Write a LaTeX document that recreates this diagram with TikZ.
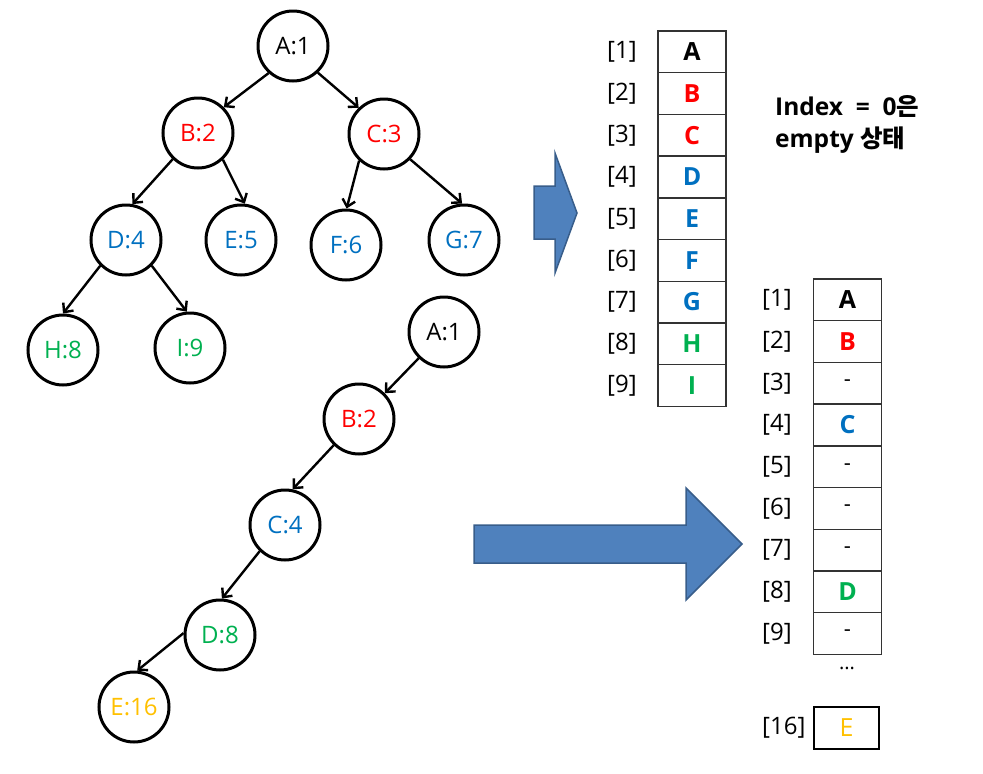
\documentclass[tikz,border=0pt]{standalone}
\usepackage{fontspec}
\setmainfont{Open Sans}
\newfontfamily\kr{Noto Sans CJK KR}
\usepackage[dvipsnames]{xcolor}
\usepackage{tikz}
\usetikzlibrary{arrows.meta}

\definecolor{xred}{HTML}{FF0000}
\definecolor{xblue}{HTML}{0070C0}
\definecolor{xgreen}{HTML}{00B050}
\definecolor{xgold}{HTML}{FFC000}
\definecolor{arrowfill}{HTML}{4F81BD}
\definecolor{arrowline}{HTML}{385D8A}

\tikzset{
  vertex/.style={circle, draw, line width=3pt, minimum size=70pt, inner sep=0pt,
    font=\fontsize{24}{24}\selectfont},
  edge/.style={->, >={Straight Barb[length=7pt,width=13pt]}, line width=2.4pt},
  cell/.style={draw=black!80, line width=1.4pt, minimum width=68pt, minimum height=41.7pt,
    inner sep=0pt, font=\fontsize{25}{25}\selectfont\bfseries},
  emptycell/.style={cell, font=\fontsize{22}{22}\selectfont},
  idx/.style={anchor=west, inner sep=0pt, font=\fontsize{24}{24}\selectfont},
  bigarrow/.style={fill=arrowfill, draw=arrowline, line width=1.5pt}
}
\newcommand{\nodash}{\raisebox{-3pt}{-}}

\begin{document}
\begin{tikzpicture}[x=1pt, y=-1pt]
                \useasboundingbox (0,0) rectangle (983,774);

                % Draw the full binary tree
                \node[vertex] (a1) at (293,46) {A:1};
                \node[vertex, text=xred] (b2) at (198,133) {B:2};
                \node[vertex, text=xred] (c3) at (384,134) {C:3};
                \node[vertex, text=xblue] (d4) at (126,240) {D:4};
                \node[vertex, text=xblue] (e5) at (241,240) {E:5};
                \node[vertex, text=xblue] (f6) at (346,245) {F:6};
                \node[vertex, text=xblue] (g7) at (464,240) {G:7};
                \node[vertex, text=xgreen] (h8) at (63,350) {H:8};
                \node[vertex, text=xgreen] (i9) at (190,348) {I:9};

                \draw[edge] (a1.-132) -- (b2.45);
                \draw[edge] (a1.-47) -- (c3.134);
                \draw[edge] (b2.-134) -- (d4.80);
                \draw[edge] (b2.-47) -- (e5.84);
                \draw[edge] (c3.-133) -- (f6.89);
                \draw[edge] (c3.-44) -- (g7.93);
                \draw[edge] (d4.-135) -- (h8.90);
                \draw[edge] (d4.-45) -- (i9.95);

                % Draw the skewed tree
                \node[vertex] (sa1) at (444,332) {A:1};
                \node[vertex, text=xred] (sb2) at (359,419) {B:2};
                \node[vertex, text=xblue] (sc4) at (285,525) {C:4};
                \node[vertex, text=xgreen] (sd8) at (220,635) {D:8};
                \node[vertex, text=xgold] (se16) at (134,707) {E:16};

                \draw[edge] (sa1.-134) -- (sb2.45);
                \draw[edge] (sb2.-134) -- (sc4.78);
                \draw[edge] (sc4.-134) -- (sd8.87);
                \draw[edge] (sd8.177) -- (se16.85);

                % Draw the blue arrows
                \draw[bigarrow] (534,186) -- (555,186) -- (555,153) -- (577,213) -- (555,273)
                  -- (555,239) -- (534,239) -- cycle;
                \draw[bigarrow] (474,525) -- (686,525) -- (686,488) -- (742,544) -- (686,600)
                  -- (686,563) -- (474,563) -- cycle;

                % Draw the first array
                \node[cell] (p1) at (692,51.85) {A};
                \node[cell, text=xred] (p2) at (692,93.55) {B};
                \node[cell, text=xred] (p3) at (692,135.25) {C};
                \node[cell, text=xblue] (p4) at (692,176.95) {D};
                \node[cell, text=xblue] (p5) at (692,218.65) {E};
                \node[cell, text=xblue] (p6) at (692,260.35) {F};
                \node[cell, text=xblue] (p7) at (692,302.05) {G};
                \node[cell, text=xgreen] (p8) at (692,343.75) {H};
                \node[cell, text=xgreen] (p9) at (692,385.45) {I};

                \node[idx] (pi1) at (607,51.85) {[1]};
                \node[idx] (pi2) at (607,93.55) {[2]};
                \node[idx] (pi3) at (607,135.25) {[3]};
                \node[idx] (pi4) at (607,176.95) {[4]};
                \node[idx] (pi5) at (607,218.65) {[5]};
                \node[idx] (pi6) at (607,260.35) {[6]};
                \node[idx] (pi7) at (607,302.05) {[7]};
                \node[idx] (pi8) at (607,343.75) {[8]};
                \node[idx] (pi9) at (607,385.45) {[9]};

                % Add the note
                \node[anchor=west, align=left, inner sep=0pt, font=\fontsize{24.5}{32}\selectfont\bfseries]
                  (note) at (775,124) {Index\ \ =\ \ 0{\kr 은}\\empty {\kr 상태}};

                % Draw the second array
                \node[cell] (q1) at (847.5,299.85) {A};
                \node[cell, text=xred] (q2) at (847.5,341.55) {B};
                \node[emptycell] (q3) at (847.5,383.25) {\nodash};
                \node[cell, text=xblue] (q4) at (847.5,424.95) {C};
                \node[emptycell] (q5) at (847.5,466.65) {\nodash};
                \node[emptycell] (q6) at (847.5,508.35) {\nodash};
                \node[emptycell] (q7) at (847.5,550.05) {\nodash};
                \node[cell, text=xgreen] (q8) at (847.5,591.75) {D};
                \node[emptycell] (q9) at (847.5,633.45) {\nodash};
                \node[font=\fontsize{20}{20}\selectfont] (dots) at (847,668) {...};
                \node[cell, draw=black, line width=2.2pt, minimum width=65pt, minimum height=42pt,
                  text=xgold, font=\fontsize{25}{25}\selectfont] (q16) at (846.5,728) {E};

                \node[idx] (qi1) at (762,299.85) {[1]};
                \node[idx] (qi2) at (762,341.55) {[2]};
                \node[idx] (qi3) at (762,383.25) {[3]};
                \node[idx] (qi4) at (762,424.95) {[4]};
                \node[idx] (qi5) at (762,466.65) {[5]};
                \node[idx] (qi6) at (762,508.35) {[6]};
                \node[idx] (qi7) at (762,550.05) {[7]};
                \node[idx] (qi8) at (762,591.75) {[8]};
                \node[idx] (qi9) at (762,633.45) {[9]};
                \node[idx] (qi16) at (762,728) {[16]};
            \end{tikzpicture}
\end{document}
